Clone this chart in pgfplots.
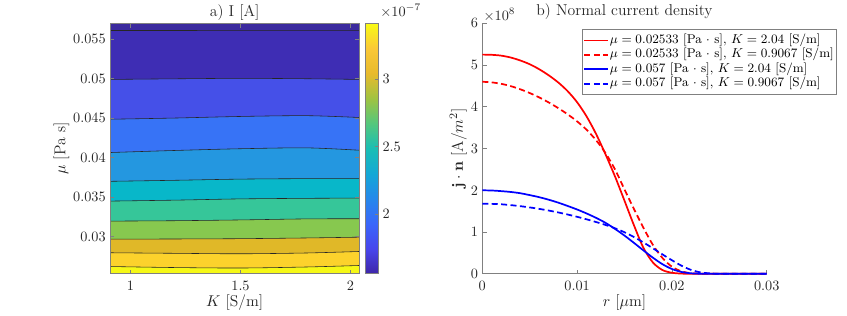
\documentclass[border=0pt]{standalone}
\usepackage{pgfplots}
\usepackage{pgfplotstable}
\pgfplotsset{compat=1.18}

\definecolor{axgray}{RGB}{128,128,128}
\definecolor{txt}{RGB}{38,38,38}
\definecolor{b0}{RGB}{59,42,158}
\definecolor{b1}{RGB}{62,45,180}
\definecolor{b2}{RGB}{69,80,232}
\definecolor{b3}{RGB}{55,115,246}
\definecolor{b4}{RGB}{36,151,224}
\definecolor{b5}{RGB}{8,183,201}
\definecolor{b6}{RGB}{54,198,153}
\definecolor{b7}{RGB}{135,200,79}
\definecolor{b8}{RGB}{224,184,40}
\definecolor{b9}{RGB}{252,210,44}
\definecolor{b10}{RGB}{245,248,22}

\pgfplotsset{
  colormap={parula}{
    rgb255=(62,38,168) rgb255=(72,70,236) rgb255=(58,102,250) rgb255=(38,136,235)
    rgb255=(20,168,214) rgb255=(25,190,180) rgb255=(85,199,125) rgb255=(160,195,65)
    rgb255=(232,186,45) rgb255=(250,200,55) rgb255=(249,251,20)
  },
  colorbar shift/.style={xshift=4.5pt},
  every axis title shift/.initial=0pt,
}

% contour lines mu(K) of the levels I = 1.6, 1.8, ..., 3.4 (x 1e-7 A)
\pgfplotstableread{
K      L1      L2      L3      L4      L5      L6      L7      L8      L9      L10
0.9067 0.05609 0.04990 0.04487 0.04066 0.03702 0.03452 0.03199 0.02971 0.02799 0.02625
1.2    0.05609 0.04998 0.04502 0.04092 0.03715 0.03464 0.03204 0.02973 0.02792 0.02612
1.5    0.05607 0.05004 0.04522 0.04114 0.03730 0.03480 0.03214 0.02977 0.02786 0.02606
1.8    0.05607 0.04999 0.04532 0.04125 0.03736 0.03487 0.03227 0.02986 0.02796 0.02619
2.04   0.05607 0.04990 0.04509 0.04095 0.03736 0.03490 0.03229 0.02996 0.02815 0.02638
}\contours

% normal current density (x 1e8 A/m^2)
\pgfplotstableread{
r     rs    rd    bs    bd
0.000 5.250 4.600 2.000 1.680
0.001 5.245 4.585 1.995 1.675
0.002 5.225 4.550 1.980 1.665
0.003 5.180 4.495 1.960 1.645
0.004 5.110 4.420 1.930 1.620
0.005 5.020 4.330 1.885 1.590
0.006 4.900 4.225 1.835 1.555
0.007 4.755 4.105 1.775 1.515
0.008 4.585 3.970 1.705 1.470
0.009 4.375 3.820 1.625 1.420
0.010 4.110 3.650 1.540 1.365
0.011 3.770 3.450 1.445 1.305
0.012 3.350 3.200 1.340 1.240
0.013 2.860 2.890 1.220 1.170
0.014 2.330 2.500 1.075 1.090
0.015 1.750 2.020 0.915 0.995
0.016 1.160 1.550 0.740 0.880
0.017 0.620 1.100 0.560 0.750
0.018 0.270 0.690 0.385 0.610
0.019 0.090 0.380 0.230 0.465
0.020 0.025 0.170 0.115 0.325
0.021 0.005 0.060 0.045 0.195
0.022 0.000 0.015 0.012 0.095
0.023 0.000 0.003 0.002 0.035
0.024 0.000 0.000 0.000 0.010
0.025 0.000 0.000 0.000 0.000
0.026 0.000 0.000 0.000 0.000
0.027 0.000 0.000 0.000 0.000
0.028 0.000 0.000 0.000 0.000
0.029 0.000 0.000 0.000 0.000
0.030 0.000 0.000 0.000 0.000
}\jn

\begin{document}
\begin{tikzpicture}
\useasboundingbox (0,0) rectangle (592.9pt,220.5pt);

% ---------------- a) contour plot ----------------
\begin{axis}[
  at={(77pt,28.85pt)}, anchor=south west,
  scale only axis, width=174.5pt, height=175.35pt,
  xmin=0.9067, xmax=2.04, ymin=0.02533, ymax=0.057,
  xtick={1,1.5,2}, xticklabels={1,1.5,2},
  ytick={0.03,0.035,0.04,0.045,0.05,0.055},
  yticklabels={0.03,0.035,0.04,0.045,0.05,0.055},
  scaled ticks=false,
  tick align=inside, major tick length=3pt,
  axis on top,
  axis line style={axgray, line width=0.5pt},
  every tick/.style={axgray, line width=0.5pt},
  tick label style={font=\fontsize{10}{12}\selectfont, text=txt},
  xticklabel style={anchor=base, inner sep=0pt, yshift=-11.35pt},
  yticklabel style={anchor=east, inner sep=0pt, xshift=-2.8pt},
  axis background/.style={fill=b0},
  every axis title shift=0pt,
  title={a) I [A]},
  title style={font=\fontsize{11}{13}\selectfont, text=txt, at={(axis description cs:0.5,1)}, anchor=base, yshift=4.6pt},
  xlabel={$K$ [S/m]},
  xlabel style={font=\fontsize{11}{13}\selectfont, text=txt, at={(axis description cs:0.5,0)}, anchor=base, yshift=-23.2pt},
  ylabel={$\mu$ [Pa s]},
  ylabel style={font=\fontsize{11}{13}\selectfont, text=txt, at={(axis description cs:-0.195,0.5)}, anchor=center},
  colorbar, colormap name=parula,
  point meta min=1.556, point meta max=3.415,
  colorbar style={
    at={(parent axis.north east)}, anchor=north west,
    width=8.8pt,
    ytick={2,2.5,3}, yticklabels={2,2.5,3},
    scaled ticks=false,
    ytick pos=right, ytick align=inside, major tick length=2.5pt,
    axis line style={axgray, line width=0.5pt},
    every tick/.style={axgray, line width=0.5pt},
    yticklabel style={font=\fontsize{10}{12}\selectfont, text=txt, anchor=west, inner sep=0pt, xshift=2.8pt},
  },
]
\pgfplotsinvokeforeach{1,...,10}{
  \addplot[draw=none, fill=b#1, smooth] table[x=K, y=L#1] {\contours} \closedcycle;
}
\pgfplotsinvokeforeach{1,...,10}{
  \addplot[black!85, line width=0.4pt, smooth] table[x=K, y=L#1] {\contours};
}
\end{axis}

% ---------------- b) normal current density ----------------
\begin{axis}[
  at={(337.6pt,28.85pt)}, anchor=south west,
  scale only axis, width=199.1pt, height=175.35pt,
  xmin=0, xmax=0.03, ymin=0, ymax=6,
  axis x line*=bottom, axis y line*=left,
  axis line style={axgray, line width=0.5pt, -},
  every tick/.style={axgray, line width=0.5pt},
  xtick={0,0.01,0.02,0.03}, xticklabels={0,0.01,0.02,0.03},
  ytick={0,1,2,3,4,5,6}, yticklabels={0,1,2,3,4,5,6},
  scaled ticks=false,
  tick align=inside, major tick length=3pt,
  clip=false,
  tick label style={font=\fontsize{10}{12}\selectfont, text=txt},
  xticklabel style={anchor=base, inner sep=0pt, yshift=-11.35pt},
  yticklabel style={anchor=east, inner sep=0pt, xshift=-2.8pt},
  every axis title shift=0pt,
  title={b) Normal current density},
  title style={font=\fontsize{11}{13}\selectfont, text=txt, at={(axis description cs:0.5,1)}, anchor=base, yshift=5.8pt},
  xlabel={$r$ [$\mu$m]},
  xlabel style={font=\fontsize{11}{13}\selectfont, text=txt, at={(axis description cs:0.5,0)}, anchor=base, yshift=-23.2pt},
  ylabel={$\mathbf{j}\cdot\mathbf{n}$ [A/$m^2$]},
  ylabel style={font=\fontsize{11}{13}\selectfont, text=txt, at={(axis description cs:-0.0844,0.5)}, anchor=center},
  legend cell align=left,
  legend image code/.code={\draw[#1] (0pt,0pt) -- (16.3pt,0pt);},
  legend style={
    at={(axis description cs:0.3495,0.977)}, anchor=north west,
    draw=axgray, line width=0.5pt, fill=white,
    font=\fontsize{8.9}{10}\selectfont, text=black,
    inner xsep=1pt, inner ysep=2.65pt, row sep=0pt,
    nodes={inner xsep=1pt, inner ysep=0pt, text height=7pt, text depth=3.1pt},
  },
]
\addplot[red, line width=1.2pt, smooth] table[x=r, y=rs] {\jn};
\addlegendentry{$\mu=0.02533$ [Pa $\cdot$ s], $K=2.04$ [S/m]}
\addplot[red, line width=1.2pt, dash pattern=on 4.2pt off 2.4pt, smooth] table[x=r, y=rd] {\jn};
\addlegendentry{$\mu=0.02533$ [Pa $\cdot$ s], $K=0.9067$ [S/m]}
\addplot[blue, line width=1.2pt, smooth] table[x=r, y=bs] {\jn};
\addlegendentry{$\mu=0.057$ [Pa $\cdot$ s], $K=2.04$ [S/m]}
\addplot[blue, line width=1.2pt, dash pattern=on 4.2pt off 2.4pt, smooth] table[x=r, y=bd] {\jn};
\addlegendentry{$\mu=0.057$ [Pa $\cdot$ s], $K=0.9067$ [S/m]}
\end{axis}

\node[anchor=base west, inner sep=0pt, text=txt, font=\fontsize{10}{12}\selectfont] at (266pt,209.3pt) {$\times10^{-7}$};
\node[anchor=base west, inner sep=0pt, text=txt, font=\fontsize{10}{12}\selectfont] at (338.3pt,206.5pt) {$\times10^{8}$};
\end{tikzpicture}
\end{document}
